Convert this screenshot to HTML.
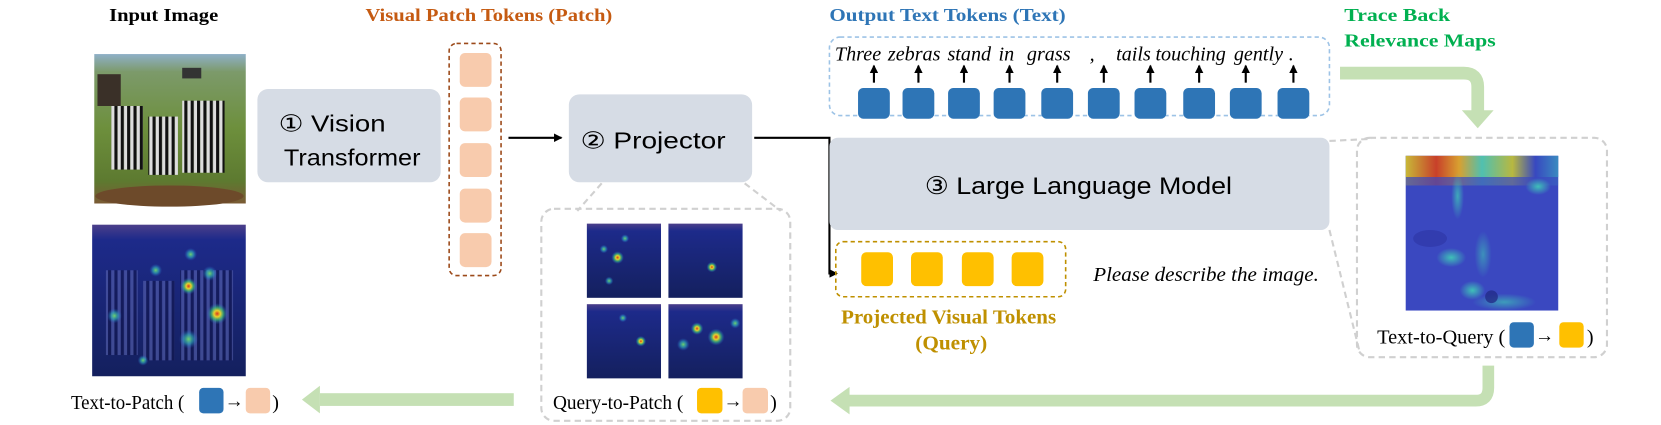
<!DOCTYPE html>
<html><head><meta charset="utf-8"><style>
html,body{margin:0;padding:0;background:#fff;width:1661px;height:425px;overflow:hidden}
svg{display:block}
.s{font-family:"Liberation Serif",serif}
.a{font-family:"Liberation Sans",sans-serif}
</style></head><body>
<svg width="1661" height="425" viewBox="0 0 1568 401" preserveAspectRatio="none" xmlns="http://www.w3.org/2000/svg">
<defs>
<linearGradient id="sky" x1="0" y1="0" x2="0" y2="1">
<stop offset="0" stop-color="#8fb0c8"/><stop offset="0.12" stop-color="#7c9a6a"/><stop offset="0.5" stop-color="#6d8f3c"/><stop offset="0.85" stop-color="#5d7a30"/><stop offset="1" stop-color="#7a5a34"/></linearGradient>
<linearGradient id="hb" x1="0" y1="0" x2="0" y2="1"><stop offset="0" stop-color="#4b3f8a"/><stop offset="0.1" stop-color="#1d2a8a"/><stop offset="1" stop-color="#14205e"/></linearGradient>
<radialGradient id="hot"><stop offset="0" stop-color="#d63a1f"/><stop offset="0.3" stop-color="#e8d22a"/><stop offset="0.6" stop-color="#3ec47a" stop-opacity="0.7"/><stop offset="1" stop-color="#2a5fd0" stop-opacity="0"/></radialGradient>
<radialGradient id="warm"><stop offset="0" stop-color="#6fd26a"/><stop offset="0.5" stop-color="#30b0c0" stop-opacity="0.6"/><stop offset="1" stop-color="#2a5fd0" stop-opacity="0"/></radialGradient>
<radialGradient id="teal"><stop offset="0" stop-color="#3fc0b8"/><stop offset="1" stop-color="#3fc0b8" stop-opacity="0"/></radialGradient>
<linearGradient id="top" x1="0" y1="0" x2="1" y2="0"><stop offset="0" stop-color="#c8b838"/><stop offset="0.2" stop-color="#c8402a"/><stop offset="0.35" stop-color="#d8a030"/><stop offset="0.5" stop-color="#50c0b0"/><stop offset="0.7" stop-color="#b8b840"/><stop offset="0.85" stop-color="#3848c0"/><stop offset="1" stop-color="#3a8ac0"/></linearGradient>
<pattern id="zs" width="6" height="6" patternUnits="userSpaceOnUse"><rect width="3" height="6" fill="#111"/><rect x="3" width="3" height="6" fill="#ddd"/></pattern>
<pattern id="zs2" width="6" height="6" patternUnits="userSpaceOnUse"><rect width="3" height="6" fill="#10144a"/><rect x="3" width="3" height="6" fill="#5a64b0"/></pattern>
<marker id="ar" markerWidth="8" markerHeight="8" refX="7" refY="4" orient="auto" markerUnits="userSpaceOnUse"><path d="M0,0 L8,4 L0,8 z" fill="#000"/></marker>
</defs>

<text x="103" y="20" class="s" font-size="17" font-weight="bold" textLength="103" lengthAdjust="spacingAndGlyphs">Input Image</text>
<text x="345" y="20" class="s" font-size="17" font-weight="bold" fill="#c55a11" textLength="233" lengthAdjust="spacingAndGlyphs">Visual Patch Tokens (Patch)</text>
<text x="783" y="20" class="s" font-size="17" font-weight="bold" fill="#2e75b6" textLength="223" lengthAdjust="spacingAndGlyphs">Output Text Tokens (Text)</text>
<text x="1269" y="20" class="s" font-size="17" font-weight="bold" fill="#00b050" textLength="100" lengthAdjust="spacingAndGlyphs">Trace Back</text>
<text x="1269" y="44" class="s" font-size="17" font-weight="bold" fill="#00b050" textLength="143" lengthAdjust="spacingAndGlyphs">Relevance Maps</text>

<!-- input image -->
<rect x="89" y="51" width="143" height="141" fill="url(#sky)"/>
<rect x="105" y="100" width="30" height="60" fill="url(#zs)"/>
<rect x="140" y="110" width="28" height="55" fill="url(#zs)"/>
<rect x="172" y="95" width="40" height="68" fill="url(#zs)"/>
<ellipse cx="160" cy="185" rx="70" ry="10" fill="#6d4a2a"/>
<rect x="172" y="64" width="18" height="10" fill="#333"/><rect x="92" y="70" width="22" height="30" fill="#3a3028"/>

<!-- heatmap bottom-left -->
<rect x="87" y="212" width="145" height="143" fill="url(#hb)"/>
<rect x="100" y="255" width="30" height="80" fill="url(#zs2)" opacity="0.6"/>
<rect x="135" y="265" width="30" height="75" fill="url(#zs2)" opacity="0.6"/>
<rect x="170" y="255" width="50" height="85" fill="url(#zs2)" opacity="0.6"/>
<circle cx="205" cy="296" r="10" fill="url(#hot)"/><circle cx="178" cy="270" r="8" fill="url(#hot)"/>
<circle cx="198" cy="258" r="7" fill="url(#warm)"/><circle cx="108" cy="298" r="7" fill="url(#warm)"/>
<circle cx="178" cy="320" r="9" fill="url(#warm)"/><circle cx="147" cy="255" r="6" fill="url(#warm)"/>
<circle cx="180" cy="240" r="6" fill="url(#warm)"/><circle cx="135" cy="340" r="5" fill="url(#warm)"/>

<!-- box1 -->
<rect x="243" y="84" width="173" height="88" rx="10" fill="#d6dce5"/>
<text x="263" y="124" class="a" font-size="22" textLength="101" lengthAdjust="spacingAndGlyphs">① Vision</text>
<text x="268" y="156" class="a" font-size="22" textLength="129" lengthAdjust="spacingAndGlyphs">Transformer</text>

<!-- patch tokens -->
<rect x="424" y="41" width="49" height="219" rx="7" fill="none" stroke="#9c4a1a" stroke-width="1.5" stroke-dasharray="4,3"/>
<g fill="#f8cbad">
<rect x="434" y="50" width="30" height="32" rx="5"/><rect x="434" y="92" width="30" height="32" rx="5"/>
<rect x="434" y="135" width="30" height="32" rx="5"/><rect x="434" y="178" width="30" height="32" rx="5"/>
<rect x="434" y="220" width="30" height="32" rx="5"/></g>

<line x1="480" y1="130" x2="530" y2="130" stroke="#000" stroke-width="2" marker-end="url(#ar)"/>

<!-- projector -->
<rect x="537" y="89" width="173" height="83" rx="10" fill="#d6dce5"/>
<text x="548" y="140" class="a" font-size="22" textLength="137" lengthAdjust="spacingAndGlyphs">② Projector</text>
<path d="M712,130 H783 V258 H790" fill="none" stroke="#000" stroke-width="2" marker-end="url(#ar)"/>

<!-- gray dashed box left -->
<rect x="511" y="197" width="235" height="200" rx="12" fill="none" stroke="#d0d0d0" stroke-width="2" stroke-dasharray="6,4"/>
<line x1="568" y1="173" x2="545" y2="199" stroke="#d0d0d0" stroke-width="2" stroke-dasharray="6,4"/>
<line x1="703" y1="173" x2="737" y2="199" stroke="#d0d0d0" stroke-width="2" stroke-dasharray="6,4"/>
<rect x="554" y="211" width="70" height="70" fill="url(#hb)"/><rect x="631" y="211" width="70" height="70" fill="url(#hb)"/>
<rect x="554" y="287" width="70" height="70" fill="url(#hb)"/><rect x="631" y="287" width="70" height="70" fill="url(#hb)"/>
<circle cx="583" cy="243" r="6" fill="url(#hot)"/><circle cx="570" cy="235" r="4" fill="url(#warm)"/><circle cx="590" cy="225" r="4" fill="url(#warm)"/><circle cx="575" cy="265" r="4" fill="url(#warm)"/>
<circle cx="672" cy="252" r="5" fill="url(#hot)"/>
<circle cx="605" cy="322" r="5" fill="url(#hot)"/><circle cx="588" cy="300" r="4" fill="url(#warm)"/>
<circle cx="658" cy="310" r="6" fill="url(#hot)"/><circle cx="676" cy="318" r="8" fill="url(#hot)"/><circle cx="645" cy="325" r="6" fill="url(#warm)"/><circle cx="694" cy="305" r="5" fill="url(#warm)"/>

<text x="522" y="386" class="s" font-size="19" textLength="123" lengthAdjust="spacingAndGlyphs">Query-to-Patch (</text>
<rect x="658" y="366" width="24" height="24" rx="4" fill="#ffc000"/>
<text x="683" y="384" class="s" font-size="18" font-weight="bold">→</text>
<rect x="701" y="366" width="24" height="24" rx="4" fill="#f8cbad"/>
<text x="727" y="386" class="s" font-size="19">)</text>

<text x="67" y="386" class="s" font-size="19" textLength="107" lengthAdjust="spacingAndGlyphs">Text-to-Patch (</text>
<rect x="188" y="366" width="23" height="24" rx="4" fill="#2e75b6"/>
<text x="212" y="384" class="s" font-size="18" font-weight="bold">→</text>
<rect x="232" y="366" width="23" height="24" rx="4" fill="#f8cbad"/>
<text x="257" y="386" class="s" font-size="19">)</text>

<rect x="302" y="371" width="183" height="12" fill="#c5e0b4"/>
<path d="M302,364 L285,377 L302,390 z" fill="#c5e0b4"/>

<!-- output text box -->
<rect x="783" y="35" width="472" height="74" rx="10" fill="none" stroke="#9dc3e6" stroke-width="1.5" stroke-dasharray="4,3"/>
<g class="s" font-size="19" font-style="italic" text-anchor="middle">
<text x="810" y="57">Three</text><text x="863" y="57">zebras</text><text x="915" y="57">stand</text><text x="950" y="57">in</text>
<text x="990" y="57">grass</text><text x="1031" y="57">,</text><text x="1070" y="57">tails</text><text x="1124" y="57">touching</text>
<text x="1188" y="57">gently</text><text x="1219" y="57">.</text></g>
<g stroke="#000" stroke-width="2" marker-end="url(#ar)">
<line x1="825" y1="78" x2="825" y2="62"/><line x1="867" y1="78" x2="867" y2="62"/><line x1="910" y1="78" x2="910" y2="62"/>
<line x1="953" y1="78" x2="953" y2="62"/><line x1="998" y1="78" x2="998" y2="62"/><line x1="1042" y1="78" x2="1042" y2="62"/>
<line x1="1086" y1="78" x2="1086" y2="62"/><line x1="1132" y1="78" x2="1132" y2="62"/><line x1="1176" y1="78" x2="1176" y2="62"/>
<line x1="1221" y1="78" x2="1221" y2="62"/></g>
<g fill="#2e75b6">
<rect x="810" y="83" width="30" height="29" rx="5"/><rect x="852" y="83" width="30" height="29" rx="5"/><rect x="895" y="83" width="30" height="29" rx="5"/>
<rect x="938" y="83" width="30" height="29" rx="5"/><rect x="983" y="83" width="30" height="29" rx="5"/><rect x="1027" y="83" width="30" height="29" rx="5"/>
<rect x="1071" y="83" width="30" height="29" rx="5"/><rect x="1117" y="83" width="30" height="29" rx="5"/><rect x="1161" y="83" width="30" height="29" rx="5"/>
<rect x="1206" y="83" width="30" height="29" rx="5"/></g>

<!-- LLM -->
<rect x="783" y="130" width="472" height="87" rx="8" fill="#d6dce5"/>
<text x="873" y="183" class="a" font-size="23" textLength="290" lengthAdjust="spacingAndGlyphs">③ Large Language Model</text>

<!-- query tokens -->
<rect x="789" y="228" width="217" height="52" rx="7" fill="none" stroke="#bf9000" stroke-width="1.5" stroke-dasharray="4,3"/>
<g fill="#ffc000">
<rect x="813" y="238" width="30" height="32" rx="5"/><rect x="860" y="238" width="30" height="32" rx="5"/>
<rect x="908" y="238" width="30" height="32" rx="5"/><rect x="955" y="238" width="30" height="32" rx="5"/></g>
<text x="794" y="305" class="s" font-size="19" font-weight="bold" fill="#bf9000" textLength="203" lengthAdjust="spacingAndGlyphs">Projected Visual Tokens</text>
<text x="864" y="330" class="s" font-size="19" font-weight="bold" fill="#bf9000" textLength="68" lengthAdjust="spacingAndGlyphs">(Query)</text>
<text x="1032" y="265" class="s" font-size="19" font-style="italic" textLength="213" lengthAdjust="spacingAndGlyphs">Please describe the image.</text>

<!-- trace back arrow -->
<path d="M1265,69 H1382 Q1395,69 1395,82 V105" fill="none" stroke="#c5e0b4" stroke-width="12"/>
<path d="M1380,104 L1410,104 L1395,121 z" fill="#c5e0b4"/>

<!-- right dashed box -->
<rect x="1281" y="130" width="236" height="207" rx="12" fill="none" stroke="#d0d0d0" stroke-width="2" stroke-dasharray="6,4"/>
<line x1="1255" y1="133" x2="1295" y2="131" stroke="#d0d0d0" stroke-width="2" stroke-dasharray="6,4"/>
<line x1="1255" y1="217" x2="1283" y2="330" stroke="#d0d0d0" stroke-width="2" stroke-dasharray="6,4"/>
<rect x="1327" y="147" width="144" height="146" fill="#3a48c0"/>
<rect x="1327" y="147" width="144" height="20" fill="url(#top)"/>
<rect x="1327" y="165" width="144" height="10" fill="url(#top)" opacity="0.3"/>
<ellipse cx="1376" cy="185" rx="6" ry="22" fill="url(#teal)" opacity="0.8"/>
<ellipse cx="1452" cy="176" rx="12" ry="8" fill="url(#teal)"/>
<ellipse cx="1350" cy="225" rx="16" ry="8" fill="#2f38a8" opacity="0.7"/>
<ellipse cx="1370" cy="243" rx="14" ry="9" fill="url(#teal)"/>
<ellipse cx="1400" cy="240" rx="8" ry="22" fill="url(#teal)" opacity="0.6"/>
<ellipse cx="1390" cy="274" rx="12" ry="9" fill="url(#teal)"/>
<ellipse cx="1420" cy="285" rx="30" ry="8" fill="url(#teal)" opacity="0.7"/>
<circle cx="1408" cy="280" r="6" fill="#232c88" opacity="0.8"/>
<text x="1300" y="324" class="s" font-size="19" textLength="121" lengthAdjust="spacingAndGlyphs">Text-to-Query (</text>
<rect x="1425" y="304" width="23" height="24" rx="4" fill="#2e75b6"/>
<text x="1449" y="322" class="s" font-size="18" font-weight="bold">→</text>
<rect x="1472" y="304" width="23" height="24" rx="4" fill="#ffc000"/>
<text x="1498" y="324" class="s" font-size="19">)</text>

<!-- bottom green arrow -->
<path d="M1405,345 V366 Q1405,378 1393,378 H800" fill="none" stroke="#c5e0b4" stroke-width="11"/>
<path d="M802,365 L784,378 L802,391 z" fill="#c5e0b4"/>
</svg>
</body></html>
